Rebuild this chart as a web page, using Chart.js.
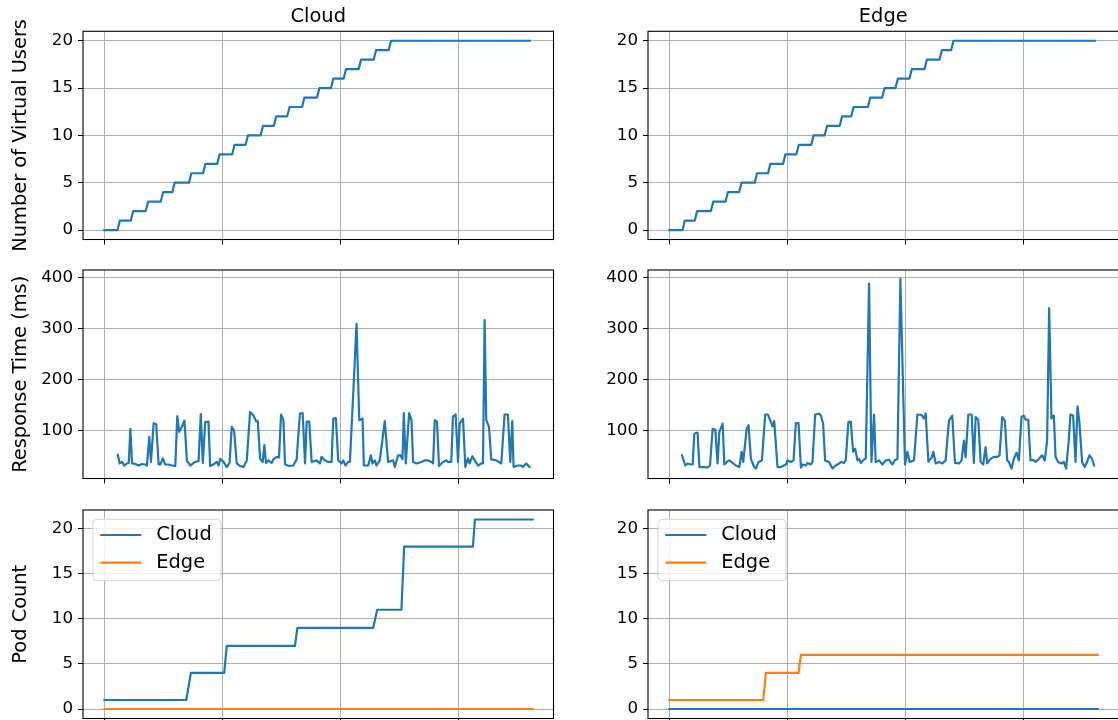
<!DOCTYPE html>
<html>
<head>
<meta charset="utf-8">
<title>Cloud vs Edge</title>
<script src="https://cdn.jsdelivr.net/npm/chart.js@4.4.1/dist/chart.umd.min.js"></script>
<style>
  html, body { margin: 0; padding: 0; background: #fff; overflow: hidden; }
  body { width: 1118px; height: 720px; position: relative; }
  canvas { position: absolute; }
</style>
</head>
<body>
<canvas id="users-cloud" width="556" height="262" style="left:0px;top:0px"></canvas>
<canvas id="users-edge" width="556" height="262" style="left:565px;top:0px"></canvas>
<canvas id="resp-cloud" width="556" height="262" style="left:0px;top:239px"></canvas>
<canvas id="resp-edge" width="556" height="262" style="left:565px;top:239px"></canvas>
<canvas id="pods-cloud" width="556" height="262" style="left:0px;top:479px"></canvas>
<canvas id="pods-edge" width="556" height="262" style="left:565px;top:479px"></canvas>
<script>
// tick positions
const timeTicks = [0, 100, 200, 300];
const userTicks = [0, 5, 10, 15, 20];
const respTicks = [100, 200, 300, 400];
const podTicks = [0, 5, 10, 15, 20];

// virtual users (ramp of one user per step)
const cloudUserTime = [0, 11.1, 13.1, 22.4, 24.4, 35.0, 37.0, 47.7, 49.7, 57.5, 59.5, 71.6, 73.6, 83.5, 85.5, 95.5, 97.5, 108.2, 110.2, 119.5, 121.5, 132.2, 134.2, 143.4, 145.4, 154.7, 156.7, 167.3, 169.3, 180.0, 182.0, 191.8, 193.8, 202.5, 204.5, 215.2, 217.2, 227.9, 229.9, 240.6, 242.6, 360];
const cloudUsers = [0, 0, 1, 1, 2, 2, 3, 3, 4, 4, 5, 5, 6, 6, 7, 7, 8, 8, 9, 9, 10, 10, 11, 11, 12, 12, 13, 13, 14, 14, 15, 15, 16, 16, 17, 17, 18, 18, 19, 19, 20, 20];
const edgeUserTime = [0, 11.1, 13.1, 21.5, 23.5, 35.1, 37.1, 47.5, 49.5, 59.0, 61.0, 72.2, 74.2, 83.5, 85.5, 96.2, 98.2, 107.5, 109.5, 120.1, 122.1, 131.4, 133.4, 144.1, 146.1, 153.9, 155.9, 168.0, 170.0, 180.1, 182.1, 191.4, 193.4, 203.2, 205.2, 215.9, 217.9, 228.6, 230.6, 238.4, 240.4, 360];
const edgeUsers = [0, 0, 1, 1, 2, 2, 3, 3, 4, 4, 5, 5, 6, 6, 7, 7, 8, 8, 9, 9, 10, 10, 11, 11, 12, 12, 13, 13, 14, 14, 15, 15, 16, 16, 17, 17, 18, 18, 19, 19, 20, 20];

// response times (ms)
const cloudRespTime = [11.3, 13.0, 14.9, 16.9, 19.1, 20.6, 22.0, 23.4, 26.2, 29.0, 31.8, 34.6, 36.0, 38.0, 39.4, 41.7, 43.9, 45.9, 47.3, 49.5, 51.5, 54.3, 57.2, 60.0, 61.7, 63.3, 65.6, 67.8, 69.8, 72.6, 76.9, 79.7, 81.6, 83.3, 85.3, 88.1, 89.5, 92.3, 95.2, 96.6, 98.0, 100.8, 103.6, 105.9, 107.8, 109.8, 112.0, 114.9, 117.7, 120.5, 123.3, 126.1, 128.4, 129.8, 131.8, 134.0, 135.4, 136.8, 138.8, 141.6, 143.0, 145.8, 147.8, 149.5, 151.5, 152.9, 156.5, 159.9, 162.7, 165.5, 167.8, 169.8, 171.2, 173.4, 175.4, 179.6, 182.4, 183.8, 186.7, 189.5, 192.3, 193.7, 195.9, 197.9, 200.7, 202.1, 204.1, 206.4, 207.8, 210.6, 213.4, 215.7, 218.5, 219.6, 223.3, 225.5, 226.9, 228.9, 230.3, 233.1, 237.3, 240.1, 244.4, 245.8, 248.6, 250.6, 252.3, 253.4, 255.1, 257.9, 259.9, 261.3, 264.1, 268.3, 271.1, 273.9, 276.7, 278.2, 279.6, 281.5, 283.2, 286.6, 289.4, 290.8, 293.6, 295.0, 297.3, 299.3, 300.7, 303.5, 305.5, 307.7, 309.1, 311.4, 314.2, 316.2, 319.0, 320.4, 321.8, 323.2, 325.5, 327.4, 331.6, 335.9, 338.7, 341.5, 343.5, 345.2, 346.3, 349.9, 352.8, 354.2, 357.0, 359.8];
const cloudResp = [52, 35, 38, 31, 35, 36, 103, 35, 34, 31, 34, 33, 31, 87, 38, 114, 112, 33, 33, 45, 33, 33, 31, 30, 128, 97, 107, 119, 41, 31, 38, 40, 132, 36, 116, 117, 30, 33, 38, 31, 44, 38, 28, 36, 107, 99, 35, 30, 28, 41, 136, 129, 118, 118, 44, 38, 71, 36, 41, 36, 43, 48, 47, 131, 120, 33, 30, 31, 43, 133, 134, 35, 117, 117, 38, 41, 35, 48, 41, 38, 38, 123, 124, 41, 35, 41, 31, 38, 38, 172, 309, 120, 123, 31, 31, 51, 35, 41, 31, 41, 118, 38, 41, 28, 51, 51, 43, 134, 35, 134, 120, 38, 35, 38, 41, 41, 38, 35, 120, 117, 30, 38, 41, 38, 38, 127, 131, 38, 114, 123, 28, 45, 35, 49, 38, 31, 35, 35, 316, 120, 107, 43, 41, 35, 131, 131, 38, 118, 28, 31, 31, 28, 35, 28];
const edgeRespTime = [10.7, 13.5, 15.5, 18.3, 19.7, 21.1, 22.5, 23.9, 25.4, 29.6, 32.4, 34.4, 36.6, 38.9, 40.8, 42.3, 45.1, 46.5, 48.5, 50.7, 53.5, 56.3, 59.2, 61.1, 62.5, 65.4, 67.0, 69.0, 71.8, 73.2, 75.5, 78.3, 81.1, 83.4, 85.9, 87.3, 88.7, 90.1, 91.5, 94.4, 98.6, 100.0, 102.8, 105.1, 107.0, 109.3, 111.3, 112.7, 115.5, 116.9, 119.7, 121.1, 123.4, 126.8, 128.2, 130.1, 131.8, 135.2, 138.0, 140.8, 143.7, 145.6, 147.9, 149.3, 151.5, 153.5, 155.5, 157.2, 159.2, 160.6, 162.0, 163.9, 166.2, 169.0, 171.0, 173.2, 174.6, 177.5, 180.3, 183.1, 185.9, 188.7, 191.0, 193.0, 195.5, 199.4, 201.4, 203.4, 207.0, 209.9, 213.5, 215.5, 216.9, 219.2, 222.0, 223.4, 225.4, 228.2, 231.0, 233.8, 236.6, 239.4, 241.7, 245.1, 247.3, 249.3, 250.7, 253.0, 255.8, 257.7, 259.2, 261.4, 263.4, 265.6, 267.6, 269.0, 271.8, 274.6, 277.5, 279.4, 281.7, 283.9, 285.9, 287.3, 289.6, 291.5, 293.8, 295.8, 298.0, 300.0, 301.4, 303.7, 305.6, 307.9, 309.9, 312.1, 314.1, 315.5, 317.7, 319.7, 321.4, 323.4, 325.4, 326.8, 329.0, 331.8, 333.8, 335.8, 338.0, 339.4, 341.7, 343.7, 345.4, 347.0, 349.3, 351.5, 353.5, 355.5, 357.7, 359.4];
const edgeResp = [51, 31, 35, 33, 33, 93, 95, 95, 28, 28, 27, 31, 103, 101, 35, 97, 113, 33, 38, 41, 36, 31, 28, 58, 38, 103, 110, 44, 28, 25, 38, 41, 131, 131, 116, 108, 118, 74, 28, 28, 33, 41, 38, 41, 114, 114, 27, 33, 31, 36, 33, 38, 131, 133, 129, 113, 41, 38, 25, 31, 35, 38, 36, 42, 116, 117, 58, 64, 41, 44, 36, 41, 45, 388, 38, 131, 38, 41, 33, 41, 42, 33, 42, 44, 397, 33, 58, 38, 41, 131, 130, 123, 133, 38, 47, 58, 35, 38, 35, 41, 119, 129, 36, 35, 41, 80, 47, 131, 131, 36, 126, 121, 38, 33, 67, 35, 44, 48, 48, 51, 126, 119, 41, 38, 25, 44, 56, 41, 126, 129, 121, 121, 41, 42, 38, 42, 48, 51, 41, 80, 340, 123, 129, 48, 38, 35, 38, 25, 80, 131, 129, 38, 147, 116, 38, 28, 38, 51, 44, 31];

// pod counts
const cloudPodTime = [0, 69.3, 73.2, 101.4, 103.6, 161.3, 163.3, 227.5, 230.9, 251.4, 253.7, 311.9, 313.6, 362.5];
const cloudPods = [1, 1, 4, 4, 7, 7, 9, 9, 11, 11, 18, 18, 21, 21];
const edgePodTime = [0, 79.4, 81.7, 109.3, 111.3, 362.5];
const edgePods = [1, 1, 4, 4, 6, 6];
const idlePodTime = [0, 362.5];
const idlePods = [0, 0];

const FONT = "'DejaVu Sans', sans-serif";
const BLUE = "#1f77b4";
const ORANGE = "#ff7f0e";

const toPoints = (times, values) => times.map((t, i) => ({ x: t, y: values[i] }));

const series = (label, times, values, color) => ({
  label,
  data: toPoints(times, values),
  borderColor: color,
  backgroundColor: color,
  borderWidth: 2.2,
  pointRadius: 0,
  borderJoinStyle: "round",
  borderCapStyle: "square",
  tension: 0,
});

// black box around each plot area
const framePlugin = {
  id: "frame",
  afterDraw(chart) {
    const { ctx, chartArea: a } = chart;
    ctx.save();
    ctx.strokeStyle = "#000";
    ctx.lineWidth = 1.1;
    ctx.strokeRect(a.left, a.top, a.right - a.left, a.bottom - a.top);
    ctx.restore();
  },
};

// legend box drawn inside the plot area, top left
const insideLegendPlugin = {
  id: "insideLegend",
  afterDraw(chart) {
    const { ctx, chartArea: a } = chart;
    ctx.save();
    ctx.beginPath();
    ctx.roundRect(a.left + 10, a.top + 9.3, 128, 61.4, 4);
    ctx.fillStyle = "rgba(255, 255, 255, 0.8)";
    ctx.fill();
    ctx.strokeStyle = "rgba(204, 204, 204, 0.8)";
    ctx.lineWidth = 1;
    ctx.stroke();
    ctx.font = `19.4px ${FONT}`;
    ctx.textBaseline = "middle";
    chart.data.datasets.forEach((ds, i) => {
      const y = a.top + 25 + i * 27.7;
      ctx.strokeStyle = ds.borderColor;
      ctx.lineWidth = 2.2;
      ctx.beginPath();
      ctx.moveTo(a.left + 17.3, y);
      ctx.lineTo(a.left + 58.3, y);
      ctx.stroke();
      ctx.fillStyle = "#000";
      ctx.fillText(ds.label, a.left + 73.3, y);
    });
    ctx.restore();
  },
};

const makeChart = (id, datasets, { yTicks, yMin, yMax, yLabel, title, legend }) => {
  const canvas = document.getElementById(id);
  return new Chart(canvas, {
    type: "line",
    data: { datasets },
    options: {
      responsive: false,
      animation: false,
      devicePixelRatio: 1,
      layout: { padding: { top: title ? 0 : 31, right: 2.5, bottom: 17.5, left: 0 } },
      plugins: {
        legend: { display: false },
        tooltip: { enabled: false },
        title: {
          display: !!title,
          text: title || "",
          fullSize: false,
          color: "#000",
          font: { family: FONT, size: 19.4, weight: "normal", lineHeight: 1.2 },
          padding: { top: 5, bottom: 3 },
        },
      },
      scales: {
        x: {
          type: "linear",
          min: -18.1,
          max: 380.1,
          afterBuildTicks: (scale) => {
            scale.ticks = timeTicks.map((v) => ({ value: v }));
          },
          afterFit: (scale) => {
            scale.height = 5;
            scale.paddingLeft = 0;
            scale.paddingRight = 0;
          },
          ticks: { display: false },
          grid: { color: "#b0b0b0", lineWidth: 1, tickLength: 5, tickColor: "#000", tickWidth: 1 },
          border: { display: false },
        },
        y: {
          type: "linear",
          min: yMin,
          max: yMax,
          afterBuildTicks: (scale) => {
            scale.ticks = yTicks.map((v) => ({ value: v }));
          },
          afterFit: (scale) => {
            scale.width = 83;
            scale.paddingTop = 0;
            scale.paddingBottom = 0;
          },
          ticks: { color: "#000", padding: 5, font: { family: FONT, size: 16.7 } },
          grid: { color: "#b0b0b0", lineWidth: 1, tickLength: 5, tickColor: "#000", tickWidth: 1 },
          border: { display: false },
          title: {
            display: !!yLabel,
            text: yLabel || "",
            color: "#000",
            font: { family: FONT, size: 19.4 },
            padding: { top: 9, bottom: 0 },
          },
        },
      },
    },
    plugins: legend ? [framePlugin, insideLegendPlugin] : [framePlugin],
  });
};

const userAxis = { yTicks: userTicks, yMin: -1, yMax: 21 };
const respAxis = { yTicks: respTicks, yMin: 5.5, yMax: 414.5 };
const podAxis = { yTicks: podTicks, yMin: -1.05, yMax: 22.05, legend: true };

makeChart("users-cloud", [series("Cloud", cloudUserTime, cloudUsers, BLUE)],
  { ...userAxis, yLabel: "Number of Virtual Users", title: "Cloud" });
makeChart("users-edge", [series("Edge", edgeUserTime, edgeUsers, BLUE)],
  { ...userAxis, title: "Edge" });

makeChart("resp-cloud", [series("Cloud", cloudRespTime, cloudResp, BLUE)],
  { ...respAxis, yLabel: "Response Time (ms)" });
makeChart("resp-edge", [series("Edge", edgeRespTime, edgeResp, BLUE)],
  { ...respAxis });

makeChart("pods-cloud", [
  series("Cloud", cloudPodTime, cloudPods, BLUE),
  series("Edge", idlePodTime, idlePods, ORANGE),
], { ...podAxis, yLabel: "Pod Count" });
makeChart("pods-edge", [
  series("Cloud", idlePodTime, idlePods, BLUE),
  series("Edge", edgePodTime, edgePods, ORANGE),
], { ...podAxis });
</script>
</body>
</html>
